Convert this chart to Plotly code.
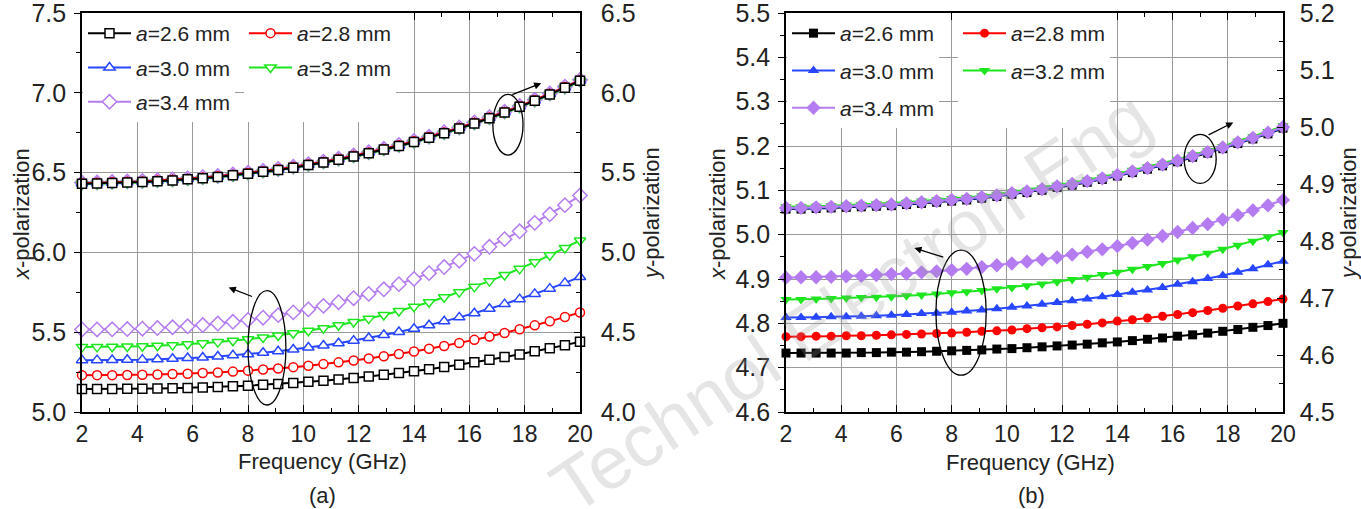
import plotly.graph_objects as go

# ---------------- data ----------------
freq = [2.0, 2.545, 3.091, 3.636, 4.182, 4.727, 5.273, 5.818, 6.364, 6.909, 7.455, 8.0,
        8.545, 9.091, 9.636, 10.182, 10.727, 11.273, 11.818, 12.364, 12.909, 13.455, 14.0,
        14.545, 15.091, 15.636, 16.182, 16.727, 17.273, 17.818, 18.364, 18.909, 19.455, 20.0]

series_names = ["<i>a</i>=2.6 mm", "<i>a</i>=2.8 mm", "<i>a</i>=3.0 mm", "<i>a</i>=3.2 mm", "<i>a</i>=3.4 mm"]

# (a) x-polarization (left axis)
a_x26 = [5.144,5.144,5.144,5.145,5.146,5.147,5.149,5.151,5.154,5.157,5.161,5.165,5.170,5.176,5.182,5.189,5.196,
         5.204,5.213,5.223,5.233,5.244,5.256,5.268,5.282,5.296,5.311,5.327,5.344,5.361,5.380,5.399,5.419,5.440]
a_x28 = [5.231,5.231,5.231,5.232,5.233,5.235,5.238,5.240,5.244,5.248,5.253,5.259,5.266,5.273,5.281,5.290,5.300,
         5.311,5.323,5.335,5.349,5.363,5.379,5.396,5.414,5.432,5.452,5.473,5.495,5.518,5.543,5.568,5.595,5.623]
a_x30 = [5.325,5.325,5.326,5.327,5.328,5.331,5.334,5.338,5.342,5.348,5.355,5.362,5.371,5.381,5.392,5.404,5.417,
         5.431,5.447,5.464,5.482,5.501,5.522,5.544,5.568,5.593,5.619,5.647,5.676,5.707,5.740,5.773,5.809,5.846]
a_x32 = [5.408,5.408,5.409,5.410,5.412,5.415,5.419,5.424,5.430,5.438,5.446,5.456,5.467,5.479,5.493,5.509,5.525,
         5.544,5.564,5.585,5.608,5.633,5.660,5.688,5.719,5.751,5.784,5.820,5.858,5.897,5.939,5.982,6.028,6.075]
a_x34 = [5.517,5.517,5.518,5.520,5.522,5.526,5.531,5.537,5.545,5.554,5.565,5.577,5.591,5.607,5.624,5.643,5.665,
         5.688,5.713,5.740,5.769,5.801,5.834,5.870,5.908,5.948,5.991,6.035,6.083,6.132,6.185,6.239,6.296,6.356]

# (a) y-polarization (right axis)
a_y26 = [5.430,5.432,5.435,5.438,5.441,5.446,5.451,5.458,5.465,5.473,5.483,5.493,5.505,5.517,5.531,5.547,5.563,
         5.581,5.601,5.622,5.644,5.667,5.692,5.719,5.747,5.777,5.808,5.841,5.876,5.912,5.950,5.990,6.032,6.075]
a_y28 = [5.434,5.436,5.439,5.442,5.445,5.450,5.455,5.462,5.469,5.477,5.487,5.497,5.509,5.521,5.535,5.551,5.567,
         5.585,5.605,5.626,5.648,5.671,5.696,5.723,5.751,5.781,5.812,5.845,5.880,5.916,5.954,5.994,6.036,6.079]
a_y30 = [5.432,5.434,5.437,5.440,5.443,5.448,5.453,5.460,5.467,5.475,5.485,5.495,5.507,5.519,5.533,5.549,5.565,
         5.583,5.603,5.624,5.646,5.669,5.694,5.721,5.749,5.779,5.810,5.843,5.878,5.914,5.952,5.992,6.034,6.077]
a_y32 = [5.427,5.429,5.432,5.435,5.438,5.443,5.448,5.455,5.462,5.470,5.480,5.490,5.502,5.514,5.528,5.544,5.560,
         5.578,5.598,5.619,5.641,5.664,5.689,5.716,5.744,5.774,5.805,5.838,5.873,5.909,5.947,5.987,6.029,6.072]
a_y34 = [5.436,5.438,5.441,5.444,5.447,5.452,5.457,5.464,5.471,5.479,5.489,5.499,5.511,5.523,5.537,5.553,5.569,
         5.587,5.607,5.628,5.650,5.673,5.698,5.725,5.753,5.783,5.814,5.847,5.882,5.918,5.956,5.996,6.038,6.081]

# (b) x-polarization (left axis)
b_x26 = [4.733,4.733,4.733,4.733,4.733,4.734,4.734,4.735,4.735,4.736,4.737,4.738,4.739,4.740,4.742,4.743,4.745,
         4.747,4.749,4.751,4.753,4.756,4.758,4.761,4.764,4.767,4.771,4.774,4.778,4.782,4.786,4.791,4.795,4.800]
b_x28 = [4.770,4.770,4.771,4.771,4.772,4.772,4.773,4.774,4.775,4.776,4.777,4.778,4.780,4.782,4.783,4.785,4.788,
         4.790,4.792,4.795,4.798,4.801,4.805,4.808,4.812,4.816,4.820,4.824,4.829,4.834,4.839,4.844,4.849,4.855]
b_x30 = [4.813,4.813,4.814,4.815,4.815,4.816,4.817,4.818,4.820,4.822,4.823,4.825,4.828,4.830,4.833,4.836,4.839,
         4.843,4.847,4.851,4.855,4.860,4.865,4.870,4.875,4.881,4.888,4.894,4.901,4.908,4.915,4.923,4.932,4.940]
b_x32 = [4.854,4.854,4.855,4.856,4.857,4.858,4.859,4.860,4.862,4.864,4.866,4.869,4.871,4.874,4.878,4.881,4.885,
         4.889,4.894,4.899,4.904,4.910,4.915,4.922,4.928,4.935,4.943,4.950,4.958,4.967,4.976,4.985,4.995,5.005]
b_x34 = [4.903,4.904,4.904,4.905,4.906,4.907,4.909,4.911,4.912,4.915,4.917,4.920,4.923,4.927,4.931,4.935,4.939,
         4.944,4.949,4.955,4.961,4.967,4.974,4.981,4.989,4.997,5.006,5.015,5.024,5.034,5.044,5.055,5.066,5.078]

# (b) y-polarization (right axis)
b_y26 = [4.856,4.856,4.857,4.858,4.859,4.860,4.861,4.862,4.864,4.866,4.868,4.870,4.872,4.875,4.878,4.882,4.885,
         4.889,4.894,4.898,4.903,4.908,4.914,4.920,4.926,4.932,4.939,4.947,4.954,4.962,4.971,4.979,4.988,4.998]
b_y28 = [4.859,4.859,4.860,4.861,4.862,4.863,4.864,4.865,4.867,4.869,4.871,4.873,4.875,4.878,4.881,4.885,4.888,
         4.892,4.897,4.901,4.906,4.911,4.917,4.923,4.929,4.935,4.942,4.950,4.957,4.965,4.974,4.982,4.991,5.001]
b_y30 = [4.857,4.857,4.858,4.859,4.860,4.861,4.862,4.863,4.865,4.867,4.869,4.871,4.873,4.876,4.879,4.883,4.886,
         4.890,4.895,4.899,4.904,4.909,4.915,4.921,4.927,4.933,4.940,4.948,4.955,4.963,4.972,4.980,4.989,4.999]
b_y32 = [4.860,4.860,4.861,4.862,4.863,4.864,4.865,4.866,4.868,4.870,4.872,4.874,4.876,4.879,4.882,4.886,4.889,
         4.893,4.898,4.902,4.907,4.912,4.918,4.924,4.930,4.936,4.943,4.951,4.958,4.966,4.975,4.983,4.992,5.002]
b_y34 = [4.858,4.858,4.859,4.860,4.861,4.862,4.863,4.864,4.866,4.868,4.870,4.872,4.874,4.877,4.880,4.884,4.887,
         4.891,4.896,4.900,4.905,4.910,4.916,4.922,4.928,4.934,4.941,4.949,4.956,4.964,4.973,4.981,4.990,5.000]

a_xpol = [a_x26, a_x28, a_x30, a_x32, a_x34]
a_ypol = [a_y26, a_y28, a_y30, a_y32, a_y34]
b_xpol = [b_x26, b_x28, b_x30, b_x32, b_x34]
b_ypol = [b_y26, b_y28, b_y30, b_y32, b_y34]

# ---------------- style ----------------
W, H = 1361, 509
FONT = "Liberation Sans, Arial, sans-serif"
NARROW = "Liberation Sans Narrow, Arial Narrow, Liberation Sans, Arial, sans-serif"
TXT = "#222222"
colors = ["#000000", "#ff0000", "#2846ff", "#1ee61e", "#b47cf0"]
symbols = ["square", "circle", "triangle-up", "triangle-down", "diamond"]
msize = [9, 9, 10, 10, 11]
legend_of_a = ["legend", "legend2", "legend", "legend2", "legend"]
legend_of_b = ["legend3", "legend4", "legend3", "legend4", "legend3"]

def fx(p):
    return p / W

def fy(p):
    return 1 - p / H

fig = go.Figure()

# (a) lower group: x-polarization, open markers
for i in range(5):
    fig.add_trace(go.Scatter(
        x=freq, y=a_xpol[i], xaxis="x", yaxis="y", mode="lines+markers",
        line=dict(color=colors[i], width=2),
        marker=dict(symbol=symbols[i], size=msize[i], color="white",
                    line=dict(color=colors[i], width=1.5)),
        name=series_names[i], legend=legend_of_a[i], legendgroup="a%d" % i,
        cliponaxis=False, showlegend=True))
# (a) upper group: y-polarization (black on top)
for i in reversed(range(5)):
    fig.add_trace(go.Scatter(
        x=freq, y=a_ypol[i], xaxis="x", yaxis="y2", mode="lines+markers",
        line=dict(color=colors[i], width=2),
        marker=dict(symbol=symbols[i], size=msize[i], color="white",
                    line=dict(color=colors[i], width=1.5)),
        name=series_names[i], cliponaxis=False, showlegend=False))
# (b) lower group: x-polarization, filled markers
for i in range(5):
    fig.add_trace(go.Scatter(
        x=freq, y=b_xpol[i], xaxis="x2", yaxis="y3", mode="lines+markers",
        line=dict(color=colors[i], width=2),
        marker=dict(symbol=symbols[i], size=msize[i], color=colors[i],
                    line=dict(color=colors[i], width=0)),
        name=series_names[i], legend=legend_of_b[i], legendgroup="b%d" % i,
        cliponaxis=False, showlegend=True))
# (b) upper group: y-polarization (purple on top)
for i in range(5):
    fig.add_trace(go.Scatter(
        x=freq, y=b_ypol[i], xaxis="x2", yaxis="y4", mode="lines+markers",
        line=dict(color=colors[i], width=2),
        marker=dict(symbol=symbols[i], size=msize[i], color=colors[i],
                    line=dict(color=colors[i], width=0)),
        name=series_names[i], cliponaxis=False, showlegend=False))

# blank legend rows so the second legend column covers the full legend box
for lg, xa, ya in (("legend2", "x", "y"), ("legend4", "x2", "y3")):
    fig.add_trace(go.Scatter(x=[None], y=[None], xaxis=xa, yaxis=ya, mode="lines",
                             line=dict(color="rgba(0,0,0,0)"), name=" ", legend=lg,
                             legendgroup=lg + "blank", hoverinfo="skip", showlegend=True))

GRID = "#9a9a9a"
tickfont_y = dict(family=FONT, size=25, color=TXT)
tickfont_x = dict(family=NARROW, size=23, color=TXT)

def xaxis(domain, anchor):
    return dict(domain=domain, anchor=anchor, range=[2, 20], tick0=2, dtick=2,
                ticks="inside", ticklen=7, tickwidth=1.3, tickcolor="black",
                minor=dict(dtick=1, ticks="inside", ticklen=4, tickcolor="black", showgrid=False),
                showgrid=True, gridcolor=GRID, gridwidth=1.3, zeroline=False,
                showline=True, linecolor="black", linewidth=1.6, mirror="ticks",
                tickfont=tickfont_x, ticklabelstandoff=1, ticklabeloverflow="allow")

def yleft(domain, anchor, rng, dt):
    return dict(domain=domain, anchor=anchor, range=rng, tick0=rng[0], dtick=dt, tickformat=".1f",
                ticks="outside", ticklen=6, tickwidth=1.3, tickcolor="black",
                minor=dict(dtick=dt / 2, ticks="outside", ticklen=4, tickcolor="black", showgrid=False),
                showgrid=True, gridcolor=GRID, gridwidth=1.3, zeroline=False,
                showline=True, linecolor="black", linewidth=1.6, tickfont=tickfont_y,
                ticklabelstandoff=3, ticklabeloverflow="allow")

def yright(over, anchor, rng, dt, standoff):
    return dict(overlaying=over, anchor=anchor, side="right", range=rng, tick0=rng[0], dtick=dt,
                tickformat=".1f", ticks="inside", ticklen=6, tickwidth=1.3, tickcolor="black",
                minor=dict(dtick=dt / 2, ticks="inside", ticklen=4, tickcolor="black", showgrid=False),
                showgrid=False, zeroline=False, showline=True, linecolor="black", linewidth=1.6,
                tickfont=tickfont_y, ticklabelstandoff=standoff, ticklabeloverflow="allow")

ydom = [fy(412), fy(13)]
leg_common = dict(bgcolor="white", borderwidth=0, xanchor="left", yanchor="top",
                  font=dict(family=FONT, size=21, color=TXT), itemwidth=43,
                  tracegroupgap=4, orientation="v", traceorder="grouped")

annotations = [
    dict(text="<i>x</i>-polarization", x=fx(21), y=fy(214), textangle=-90),
    dict(text="<i>y</i>-polarization", x=fx(651), y=fy(214), textangle=-90),
    dict(text="<i>x</i>-polarization", x=fx(717), y=fy(214), textangle=-90),
    dict(text="<i>y</i>-polarization", x=fx(1348), y=fy(214), textangle=-90),
    dict(text="Frequency (GHz)", x=fx(322), y=fy(461)),
    dict(text="Frequency (GHz)", x=fx(1030), y=fy(462)),
    dict(text="(a)", x=fx(322), y=fy(495)),
    dict(text="(b)", x=fx(1031), y=fy(495)),
]
for a in annotations:
    a.update(xref="paper", yref="paper", showarrow=False, xanchor="center", yanchor="middle",
             font=dict(family=FONT, size=22, color=TXT))

# arrows from the ellipses to the relevant axis
arrows = [
    dict(xref="x", yref="y", axref="x", ayref="y", x=7.3, y=5.78, ax=8.2, ay=5.72),
    dict(xref="x", yref="y", axref="x", ayref="y", x=18.6, y=7.06, ax=17.5, ay=6.985),
    dict(xref="x2", yref="y3", axref="x2", ayref="y3", x=6.65, y=4.97, ax=7.75, ay=4.948),
    dict(xref="x2", yref="y4", axref="x2", ayref="y4", x=18.2, y=5.008, ax=17.25, ay=4.985),
]
for a in arrows:
    a.update(text="", showarrow=True, arrowhead=2, arrowsize=1.1, arrowwidth=1.3, arrowcolor="black")

# watermark
annotations.append(dict(text="Technol Electron Eng", xref="paper", yref="paper", x=fx(850), y=fy(302),
                        showarrow=False, textangle=-33.5,
                        font=dict(family=FONT, size=74, color="rgba(150,150,150,0.25)")))

ellipse_style = dict(type="circle", line=dict(color="black", width=1.3), fillcolor="rgba(0,0,0,0)")
shapes = [
    dict(xref="x", yref="y", x0=8.0, x1=9.37, y0=5.044, y1=5.76, **ellipse_style),
    dict(xref="x", yref="y", x0=16.85, x1=17.94, y0=6.61, y1=6.99, **ellipse_style),
    dict(xref="x2", yref="y3", x0=7.43, x1=9.25, y0=4.683, y1=4.965, **ellipse_style),
    dict(xref="x2", yref="y4", x0=16.42, x1=17.58, y0=4.901, y1=4.987, **ellipse_style),
]

fig.update_layout(
    width=W, height=H, margin=dict(l=0, r=0, t=0, b=0, autoexpand=False),
    paper_bgcolor="white", plot_bgcolor="white",
    xaxis=xaxis([fx(82), fx(580)], "y"),
    yaxis=yleft(ydom, "x", [5, 7.5], 0.5),
    yaxis2=yright("y", "x", [4, 6.5], 0.5, 14),
    xaxis2=xaxis([fx(786), fx(1283)], "y3"),
    yaxis3=yleft(ydom, "x2", [4.6, 5.5], 0.1),
    yaxis4=yright("y3", "x2", [4.5, 5.2], 0.1, 10),
    legend=dict(x=fx(83), y=fy(13), **leg_common),
    legend2=dict(x=fx(244), y=fy(13), **leg_common),
    legend3=dict(x=fx(787), y=fy(13), **{**leg_common, "tracegroupgap": 7}),
    legend4=dict(x=fx(958), y=fy(13), **{**leg_common, "tracegroupgap": 7}),
    annotations=annotations + arrows,
    shapes=shapes,
    showlegend=True,
    hovermode=False,
)

fig.write_html(
    "out.html",
    config={"displayModeBar": False},
    post_script="document.body.style.margin='0px';document.body.style.overflow='hidden';",
)
